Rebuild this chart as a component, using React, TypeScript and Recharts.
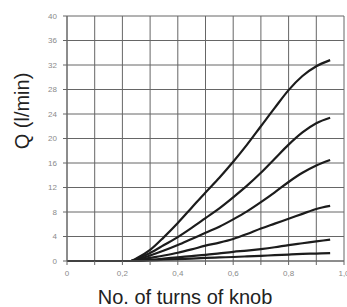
import { CartesianGrid, Label, Line, LineChart, XAxis, YAxis } from "recharts";

// turns of knob
const turns = [0, 0.1, 0.2, 0.23, 0.25, 0.3, 0.35, 0.4, 0.45, 0.5, 0.55, 0.6, 0.65, 0.7, 0.75, 0.8, 0.85, 0.9, 0.95];

// flow curves, top to bottom (l/min)
const curve1 = [0, 0, 0, 0, 0.4, 1.8, 3.9, 6.2, 8.7, 11.2, 13.6, 16.2, 19.0, 22.0, 25.0, 27.9, 30.2, 31.8, 32.8];
const curve2 = [0, 0, 0, 0, 0.3, 1.3, 2.6, 3.9, 5.4, 7.0, 8.6, 10.4, 12.3, 14.4, 16.7, 19.0, 21.0, 22.5, 23.4];
const curve3 = [0, 0, 0, 0, 0.2, 0.9, 1.7, 2.6, 3.6, 4.6, 5.6, 6.8, 8.1, 9.6, 11.2, 12.9, 14.4, 15.6, 16.5];
const curve4 = [0, 0, 0, 0, 0.1, 0.5, 0.9, 1.35, 1.9, 2.5, 3.0, 3.6, 4.4, 5.3, 6.1, 6.9, 7.7, 8.5, 9.0];
const curve5 = [0, 0, 0, 0, 0.05, 0.2, 0.4, 0.6, 0.8, 1.0, 1.25, 1.5, 1.7, 1.95, 2.25, 2.6, 2.9, 3.2, 3.5];
const curve6 = [0, 0, 0, 0, 0, 0.1, 0.2, 0.3, 0.4, 0.5, 0.58, 0.65, 0.75, 0.85, 0.95, 1.05, 1.15, 1.22, 1.3];

const xTicks = [0, 0.1, 0.2, 0.3, 0.4, 0.5, 0.6, 0.7, 0.8, 0.9, 1.0];
const yTicks = [0, 4, 8, 12, 16, 20, 24, 28, 32, 36, 40];

const series = [curve1, curve2, curve3, curve4, curve5, curve6];
const data = turns.map((t, i) => {
  const row: Record<string, number> = { t };
  series.forEach((s, k) => {
    row["c" + (k + 1)] = s[i];
  });
  return row;
});

const font = "'Liberation Sans', Arial, sans-serif";
const tickStyle = { fontSize: 8, fill: "#8a8a8a", fontFamily: font };

const fmtX = (v: number) => {
  const n = Math.round(v * 10);
  if (n % 2 !== 0) return "";
  return n === 0 ? "0" : (n / 10).toFixed(1).replace(".", ",");
};

export default function App() {
  return (
    <div style={{ position: "absolute", left: 0, top: 0, background: "#fff" }}>
      <LineChart width={347} height={307} data={data} margin={{ top: 16, right: 3, bottom: 0, left: 0 }}>
        <CartesianGrid stroke="#666" strokeWidth={1} />
        <XAxis
          dataKey="t"
          type="number"
          domain={[0, 1]}
          ticks={xTicks}
          tickFormatter={fmtX}
          interval={0}
          height={46}
          tick={tickStyle}
          tickSize={4}
          tickMargin={5}
          stroke="#666"
        >
          <Label
            content={() => (
              <text x={185} y={297} textAnchor="middle" dominantBaseline="central" fontSize={20} fill="#222" fontFamily={font}>
                No. of turns of knob
              </text>
            )}
          />
        </XAxis>
        <YAxis
          type="number"
          domain={[0, 40]}
          ticks={yTicks}
          interval={0}
          width={67}
          tick={tickStyle}
          tickSize={4}
          tickMargin={6}
          stroke="#666"
        >
          <Label
            content={() => (
              <text
                x={22}
                y={111}
                transform="rotate(-90 22 111)"
                textAnchor="middle"
                dominantBaseline="central"
                fontSize={20}
                fill="#222"
                fontFamily={font}
              >
                Q (l/min)
              </text>
            )}
          />
        </YAxis>
        {series.map((_, k) => (
          <Line
            key={k}
            dataKey={"c" + (k + 1)}
            type="monotone"
            stroke="#1c1c1c"
            strokeWidth={2.2}
            dot={false}
            isAnimationActive={false}
          />
        ))}
      </LineChart>
    </div>
  );
}
